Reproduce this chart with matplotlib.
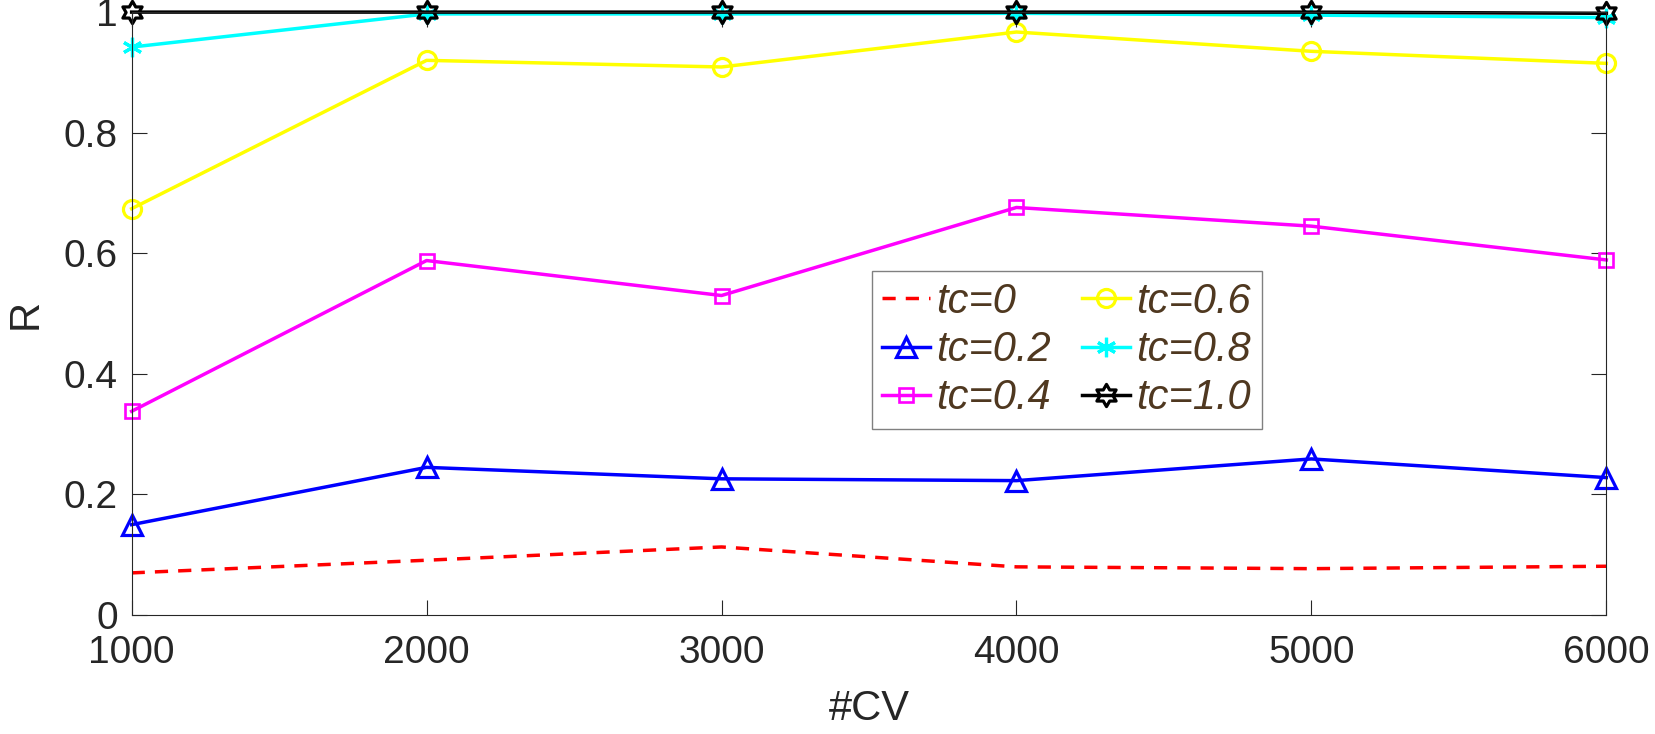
import matplotlib
matplotlib.use("Agg")
import matplotlib.pyplot as plt
from matplotlib.path import Path

plt.rcParams['font.family'] = ['Liberation Sans', 'DejaVu Sans']

cv = [1000, 2000, 3000, 4000, 5000, 6000]
tc0 = [0.070, 0.091, 0.113, 0.080, 0.077, 0.081]
tc02 = [0.150, 0.245, 0.226, 0.223, 0.259, 0.228]
tc04 = [0.338, 0.588, 0.530, 0.676, 0.645, 0.589]
tc06 = [0.674, 0.920, 0.909, 0.967, 0.935, 0.915]
tc08 = [0.942, 0.997, 0.997, 0.998, 0.995, 0.991]
tc10 = [1.000, 1.000, 1.000, 1.000, 1.000, 0.998]
labels = ['tc=0', 'tc=0.2', 'tc=0.4', 'tc=0.6', 'tc=0.8', 'tc=1.0']

hexagram = Path.unit_regular_star(6, 0.577)
ink = '#262626'

fig = plt.figure(figsize=(16.56, 7.34), dpi=100)
ax = fig.add_axes([0.0795, 0.162, 0.8905, 0.8215])

lw = 2.5
kw = dict(lw=lw, mfc='none', clip_on=False)
ax.plot(cv, tc0, color='red', lw=lw, dashes=(3.8, 2.9), label=labels[0])
ax.plot(cv, tc02, color='blue', marker='^', ms=15, mew=2.3, label=labels[1], **kw)
ax.plot(cv, tc04, color='magenta', marker='s', ms=10, mew=1.9, label=labels[2], **kw)
ax.plot(cv, tc06, color='yellow', marker='o', ms=13, mew=2.3, label=labels[3], **kw)
ax.plot(cv, tc08, color='cyan', marker=(6, 2, 0), ms=14, mew=2.3, label=labels[4], **kw)
ax.plot(cv, tc10, color='black', marker=hexagram, ms=16, mew=2.3, label=labels[5], **kw)

ax.set_xlim(1000, 6000)
ax.set_ylim(0, 1)
ax.set_xticks(cv)
ax.set_yticks([0, 0.2, 0.4, 0.6, 0.8, 1.0])
ax.set_yticklabels(['0', '0.2', '0.4', '0.6', '0.8', '1'])
ax.tick_params(direction='in', top=True, right=True, length=11, width=0.8,
               colors=ink, labelsize=28)
ax.tick_params(axis='x', pad=14)
ax.tick_params(axis='y', pad=10)
for s in ax.spines.values():
    s.set_color(ink)
    s.set_linewidth(0.8)

ax.set_xlabel('#CV', fontsize=30, color=ink, labelpad=13)
ax.set_ylabel('R', fontsize=30, color=ink, labelpad=13)

leg = ax.legend(ncol=2, loc='upper left', bbox_to_anchor=(0.502, 0.570),
                borderaxespad=0, fancybox=False, edgecolor='#808080',
                prop={'size': 30, 'style': 'italic'}, labelcolor='#4f3820',
                handlelength=1.15, handletextpad=0.15, columnspacing=0.75,
                labelspacing=0.2, borderpad=0.25, framealpha=1)
leg.get_frame().set_linewidth(1.0)

fig.savefig('out.png', dpi=100)
